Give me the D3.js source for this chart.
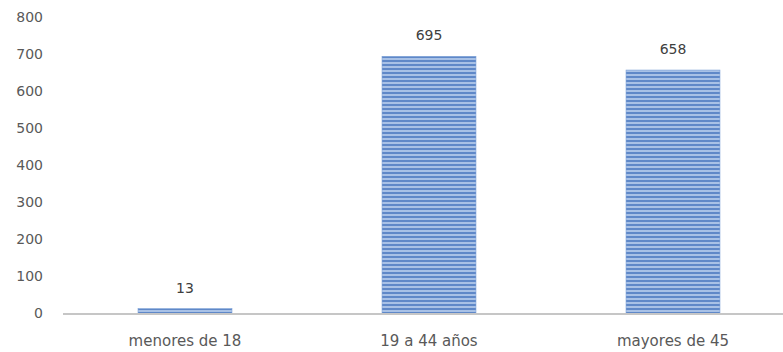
<!DOCTYPE html>
<html>
<head>
<meta charset="utf-8">
<script src="https://cdn.jsdelivr.net/npm/d3@7"></script>
<style>
  body { margin: 0; background: #fff; }
  text { font-family: "DejaVu Sans", sans-serif; }
</style>
</head>
<body>
<svg class="main" width="783" height="352"></svg>
<script>
var categories = ["menores de 18", "19 a 44 años", "mayores de 45"],
    values = [13, 695, 658],
    yTicks = [0, 100, 200, 300, 400, 500, 600, 700, 800];

var svg = d3.select(".main"),
    plotLeft = 63,
    plotRight = 795,
    plotTop = 17.5,
    plotBottom = 313.5;

var x = d3.scaleBand()
    .domain(categories)
    .range([plotLeft, plotRight])
    .paddingInner(0.615)
    .paddingOuter(0.3075);

var y = d3.scaleLinear()
    .domain([0, 800])
    .range([plotBottom, plotTop]);

// horizontal stripe fill
var defs = svg.append("defs");
var pat = defs.append("pattern")
    .attr("id", "stripes")
    .attr("patternUnits", "userSpaceOnUse")
    .attr("width", 8)
    .attr("height", 4);
pat.append("rect").attr("width", 8).attr("height", 4).attr("fill", "#a8c1e6");
pat.append("rect").attr("y", 0).attr("width", 8).attr("height", 2).attr("fill", "#5f88c8");

// y axis labels (no line)
var yAxis = svg.append("g")
    .attr("transform", "translate(" + 43 + ",0)")
    .call(d3.axisLeft(y).tickValues(yTicks).tickSize(0).tickPadding(0));
yAxis.select(".domain").remove();
yAxis.selectAll("text")
    .attr("fill", "#595959")
    .style("font-size", "14px");

// bars
svg.append("g").selectAll("rect")
    .data(values)
    .join("rect")
    .attr("x", function(d, i) { return x(categories[i]); })
    .attr("y", function(d) { return y(d); })
    .attr("width", x.bandwidth())
    .attr("height", function(d) { return y(0) - y(d); })
    .attr("fill", "url(#stripes)")
    .attr("stroke", "#7a9fd6")
    .attr("stroke-width", 0.6);

// baseline
svg.append("line")
    .attr("x1", plotLeft)
    .attr("x2", 783)
    .attr("y1", y(0) + 0.5)
    .attr("y2", y(0) + 0.5)
    .attr("stroke", "#c6c6c6")
    .attr("stroke-width", 2);

// value labels
svg.append("g").selectAll("text")
    .data(values)
    .join("text")
    .attr("x", function(d, i) { return x(categories[i]) + x.bandwidth() / 2; })
    .attr("y", function(d) { return y(d) - 16; })
    .attr("text-anchor", "middle")
    .attr("fill", "#404040")
    .style("font-size", "14px")
    .text(function(d) { return d; });

// x axis labels
var xAxis = svg.append("g")
    .attr("transform", "translate(0," + (plotBottom + 22) + ")")
    .call(d3.axisBottom(x).tickSize(0).tickPadding(0));
xAxis.select(".domain").remove();
xAxis.selectAll("text")
    .attr("fill", "#595959")
    .style("font-size", "15px");
</script>
</body>
</html>
